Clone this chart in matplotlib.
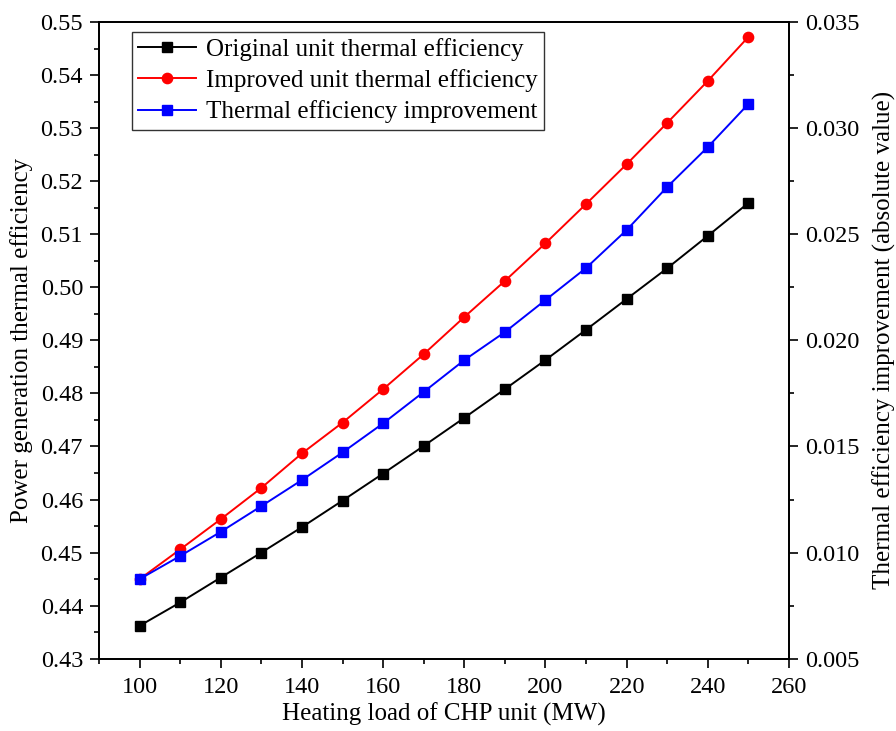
import matplotlib
matplotlib.use("Agg")
import matplotlib.pyplot as plt
from matplotlib.ticker import MultipleLocator, FormatStrFormatter

plt.rcParams['font.family'] = ['Liberation Serif', 'DejaVu Serif']
plt.rcParams['mathtext.fontset'] = 'stix'

heating_load = [100, 110, 120, 130, 140, 150, 160, 170, 180, 190, 200, 210, 220, 230, 240, 250]
original_eff = [0.4362, 0.4406, 0.4453, 0.4500, 0.4548, 0.4598, 0.4649, 0.4701, 0.4754, 0.4808,
                0.4863, 0.4920, 0.4978, 0.5036, 0.5097, 0.5159]
improved_eff = [0.4450, 0.4506, 0.4563, 0.4622, 0.4687, 0.4745, 0.4808, 0.4874, 0.4944, 0.5012,
                0.5083, 0.5157, 0.5232, 0.5310, 0.5389, 0.5472]
improvement = [0.00875, 0.00984, 0.01098, 0.01219, 0.01342, 0.01472, 0.01609, 0.01757, 0.01907,
               0.02039, 0.02190, 0.02341, 0.02520, 0.02723, 0.02911, 0.03114]

fig = plt.figure(figsize=(8.96, 7.31), dpi=100)
ax = fig.add_axes([0.1105, 0.0989, 0.7701, 0.8710])
ax2 = ax.twinx()

l1, = ax.plot(heating_load, original_eff, color='black', marker='s', markersize=6.8, lw=1.4,
              label='Original unit thermal efficiency')
l2, = ax.plot(heating_load, improved_eff, color='red', marker='o', markersize=7.4, lw=1.4,
              label='Improved unit thermal efficiency')
l3, = ax2.plot(heating_load, improvement, color='blue', marker='s', markersize=6.8, lw=1.4,
               label='Thermal efficiency improvement')

ax.set_xlim(90, 260)
ax.set_ylim(0.43, 0.55)
ax2.set_ylim(0.005, 0.035)

ax.xaxis.set_major_locator(MultipleLocator(20))
ax.xaxis.set_minor_locator(MultipleLocator(10))
ax.yaxis.set_major_locator(MultipleLocator(0.01))
ax.yaxis.set_minor_locator(MultipleLocator(0.005))
ax.yaxis.set_major_formatter(FormatStrFormatter('%.2f'))
ax2.yaxis.set_major_locator(MultipleLocator(0.005))
ax2.yaxis.set_minor_locator(MultipleLocator(0.0025))
ax2.yaxis.set_major_formatter(FormatStrFormatter('%.3f'))

for a in (ax, ax2):
    a.tick_params(which='major', direction='out', length=6.5, width=1.2, labelsize=17.5, pad=5)
    a.tick_params(which='minor', direction='out', length=3.5, width=1.2)
    for s in a.spines.values():
        s.set_linewidth(1.3)
ax.tick_params(axis='x', which='major', pad=7)

ax.set_xlabel('Heating load of CHP unit (MW)', fontsize=18, labelpad=3)
ax.set_ylabel('Power generation thermal efficiency', fontsize=18, labelpad=5)
ax2.set_ylabel('Thermal efficiency improvement (absolute value)', fontsize=18, labelpad=9)

leg = ax.legend(handles=[l1, l2, l3], loc='upper left', bbox_to_anchor=(0.048, 0.985),
                fontsize=18, frameon=True, fancybox=False, edgecolor='black',
                handlelength=2.3, handletextpad=0.4, labelspacing=0.33, borderpad=0.25,
                borderaxespad=0.0)
leg.get_frame().set_linewidth(1.0)

fig.savefig('out.png', dpi=100)
